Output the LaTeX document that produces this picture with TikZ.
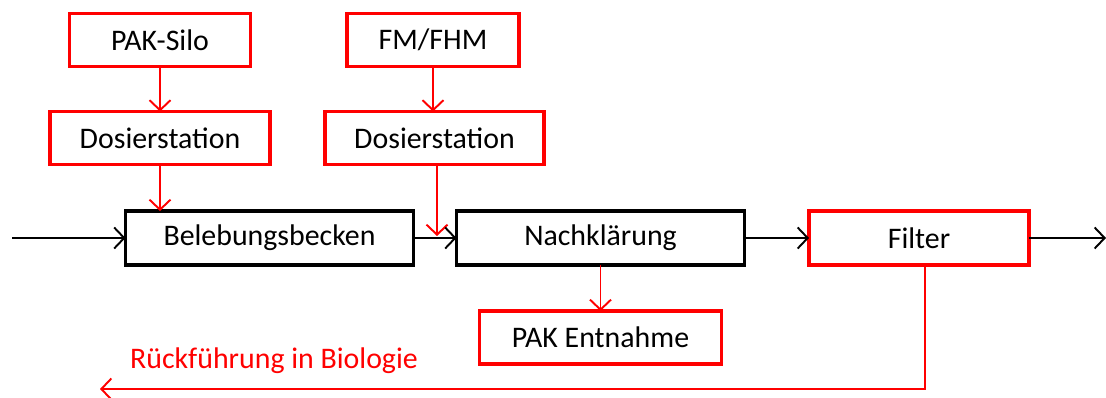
\documentclass[tikz,border=0pt]{standalone}
\usepackage{fontspec}
\setmainfont{Carlito}
\usetikzlibrary{arrows.meta}
\definecolor{pred}{RGB}{255,0,0}
\tikzset{
  box/.style={draw, rectangle, line width=2.2pt, inner sep=0pt, outer sep=0pt, font=\fontsize{17}{19}\selectfont, text=black},
  redbox/.style={box, draw=pred},
  blackbox/.style={box, draw=black},
  conn/.style={line width=1.1pt, -{Straight Barb[length=2mm,width=4.2mm,line width=1.1pt]}},
  redconn/.style={conn, draw=pred},
  blackconn/.style={conn, draw=black},
}
\begin{document}
\begin{tikzpicture}[x=0.02cm, y=-0.02cm]
\useasboundingbox (0,0) rectangle (1106,398);
\node[redbox, minimum width=3.62cm, minimum height=1.06cm] (silo) at (160,40) {PAK-Silo};
\node[redbox, minimum width=4.4cm, minimum height=1.06cm] (dos1) at (160,138) {Dosierstation};
\node[redbox, minimum width=3.44cm, minimum height=1.06cm] (fm) at (433,40) {FM/FHM};
\node[redbox, minimum width=4.38cm, minimum height=1.06cm] (dos2) at (434.5,138) {Dosierstation};
\node[blackbox, minimum width=5.76cm, minimum height=1.08cm] (bb) at (269.5,238) {Belebungsbecken};
\node[blackbox, minimum width=5.76cm, minimum height=1.08cm] (nk) at (600.5,238) {Nachklärung};
\node[redbox, minimum width=4.4cm, minimum height=1.08cm] (filter) at (919,238) {Filter};
\node[redbox, minimum width=4.84cm, minimum height=1.06cm] (pak) at (600.5,337.5) {PAK Entnahme};
\coordinate (in) at (12,238);
\coordinate (out) at (1106,238);
\coordinate (d2end) at (437,236);
\coordinate (ret) at (100,389);
\draw[redconn] (silo) -- (dos1);
\draw[redconn] (dos1) -- (bb.north -| dos1);
\draw[redconn] (fm) -- (fm |- dos2.north);
\draw[redconn] (dos2.south -| d2end) -- (d2end);
\draw[blackconn] (in) -- (bb.west);
\draw[blackconn] (bb.east) -- (nk.west);
\draw[blackconn] (nk.east) -- (filter.west);
\draw[blackconn] (filter.east) -- (out);
\draw[redconn] (nk.south) -- (pak.north);
\draw[redconn] (filter.south -| 925,0) -- (925,389) -- (ret);
\node[text=pred, font=\fontsize{17}{19}\selectfont, inner sep=0pt] (lbl) at (274,361) {Rückführung in Biologie};
\end{tikzpicture}
\end{document}
